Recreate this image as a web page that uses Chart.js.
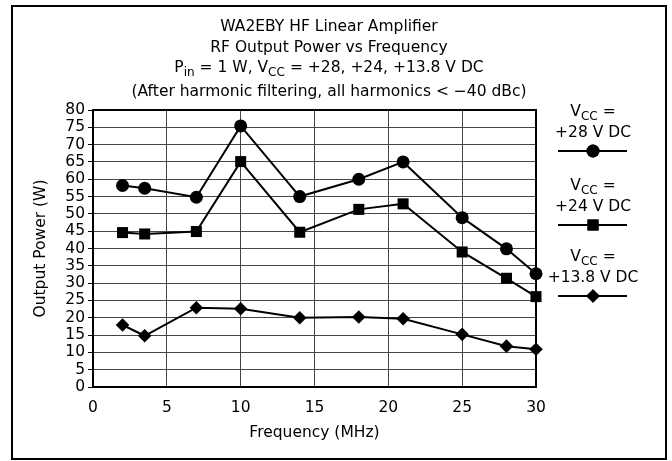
<!DOCTYPE html>
<html>
<head>
<meta charset="utf-8">
<script src="https://cdn.jsdelivr.net/npm/chart.js@4.4.0/dist/chart.umd.min.js"></script>
<style>
html, body { margin: 0; padding: 0; background: #fff; }
</style>
</head>
<body>
<canvas id="mycanvas" width="672" height="461"></canvas>
<script>
// data
var freq = [2, 3.5, 7, 10, 14, 18, 21, 25, 28, 30];
var power28 = [58.2, 57.4, 54.8, 75.4, 55.0, 60.0, 65.0, 48.9, 39.9, 32.7];
var power24 = [44.6, 44.2, 44.9, 65.1, 44.7, 51.3, 52.9, 39.0, 31.4, 26.1];
var power138 = [17.9, 14.8, 22.9, 22.6, 20.0, 20.2, 19.7, 15.2, 11.8, 10.9];
var seriesNames = ['+28 V DC', '+24 V DC', '+13.8 V DC'];
var markers = ['circle', 'rect', 'rectRot'];
var markerSizes = [6.5, 7.8, 6.8];

var FONT = '"DejaVu Sans", sans-serif';
var FS = 15.5;

function toPoints(xs, ys) {
	var pts = [];
	for (var i in xs) {
		pts.push({x: xs[i], y: ys[i]});
	}
	return pts;
}

function makeSet(label, values, k) {
	return {
		label: label,
		data: toPoints(freq, values),
		showLine: true,
		clip: false,
		borderColor: '#000',
		backgroundColor: '#000',
		borderWidth: 2,
		pointStyle: markers[k],
		pointRadius: markerSizes[k],
		pointBorderWidth: 0,
		pointBackgroundColor: '#000'
	};
}

// draws text runs, some of them as subscripts
function drawRuns(ctx, runs, cx, y, size) {
	var total = 0;
	runs.forEach(function(r) {
		ctx.font = (r.sub ? size * 0.78 : size) + 'px ' + FONT;
		r.w = ctx.measureText(r.t).width;
		total += r.w;
	});
	var x = cx - total / 2;
	ctx.textAlign = 'left';
	ctx.textBaseline = 'middle';
	runs.forEach(function(r) {
		ctx.font = (r.sub ? size * 0.78 : size) + 'px ' + FONT;
		ctx.fillText(r.t, x, r.sub ? y + size * 0.32 : y);
		x += r.w;
	});
}

var extras = {
	id: 'extras',
	afterDraw: function(chart) {
		var ctx = chart.ctx;
		var a = chart.chartArea;
		ctx.save();
		ctx.fillStyle = '#000';
		ctx.strokeStyle = '#000';
		// outer frame
		ctx.lineWidth = 2;
		ctx.strokeRect(12, 6, 654, 453);

		// title lines
		var cx = 329;
		drawRuns(ctx, [{t: 'WA2EBY HF Linear Amplifier'}], cx, 27, FS);
		drawRuns(ctx, [{t: 'RF Output Power vs Frequency'}], cx, 48, FS);
		drawRuns(ctx, [{t: 'P'}, {t: 'in', sub: true}, {t: ' = 1 W, V'}, {t: 'CC', sub: true},
			{t: ' = +28, +24, +13.8 V DC'}], cx, 68, FS);
		drawRuns(ctx, [{t: '(After harmonic filtering, all harmonics < \u221240 dBc)'}], cx, 92, FS);

		// legend on the right
		var lx = 593;
		var tops = [112, 186, 257];
		for (var k = 0; k < 3; k++) {
			var ty = tops[k];
			drawRuns(ctx, [{t: 'V'}, {t: 'CC', sub: true}, {t: ' ='}], lx, ty, FS);
			drawRuns(ctx, [{t: seriesNames[k]}], lx, ty + 21, FS);
			var ly = ty + 39;
			ctx.lineWidth = 2;
			ctx.beginPath();
			ctx.moveTo(558, ly);
			ctx.lineTo(627, ly);
			ctx.stroke();
			Chart.helpers.drawPoint(ctx, {pointStyle: markers[k], radius: markerSizes[k], rotation: 0, borderWidth: 0}, lx, ly);
			ctx.fill();
		}
		ctx.restore();
	},
	// plot frame under the data marks
	beforeDatasetsDraw: function(chart) {
		var ctx = chart.ctx;
		var a = chart.chartArea;
		ctx.save();
		ctx.strokeStyle = '#000';
		ctx.lineWidth = 2;
		ctx.strokeRect(a.left, a.top, a.right - a.left, a.bottom - a.top);
		ctx.restore();
	}
};

var ctx = document.getElementById('mycanvas');
var lineChart = new Chart(ctx, {
	type: 'scatter',
	data: {
		datasets: [
			makeSet(seriesNames[0], power28, 0),
			makeSet(seriesNames[1], power24, 1),
			makeSet(seriesNames[2], power138, 2)
		]
	},
	options: {
		responsive: false,
		animation: false,
		devicePixelRatio: 1,
		layout: {
			padding: {left: 32, top: 110, right: 136, bottom: 17}
		},
		plugins: {
			legend: {display: false},
			tooltip: {enabled: false}
		},
		scales: {
			x: {
				type: 'linear',
				min: 0,
				max: 30,
				afterFit: function(scale) { scale.height = 57; },
				ticks: {stepSize: 5, autoSkip: false, color: '#000', padding: 12, font: {family: FONT, size: FS}},
				grid: {color: '#444', lineWidth: 1, drawTicks: false},
				border: {color: '#000', width: 2},
				title: {display: true, text: 'Frequency (MHz)', color: '#000', padding: {top: 0, bottom: 2},
					font: {family: FONT, size: FS}}
			},
			y: {
				min: 0,
				max: 80,
				afterFit: function(scale) { scale.width = 61; },
				ticks: {stepSize: 5, autoSkip: false, color: '#000', padding: 3, font: {family: FONT, size: FS}},
				grid: {color: '#444', lineWidth: 1, tickLength: 5, tickColor: '#000'},
				border: {color: '#000', width: 2},
				title: {display: true, text: 'Output Power (W)', color: '#000', padding: {top: 0, bottom: 0},
					font: {family: FONT, size: FS}}
			}
		}
	},
	plugins: [extras]
});
</script>
</body>
</html>
